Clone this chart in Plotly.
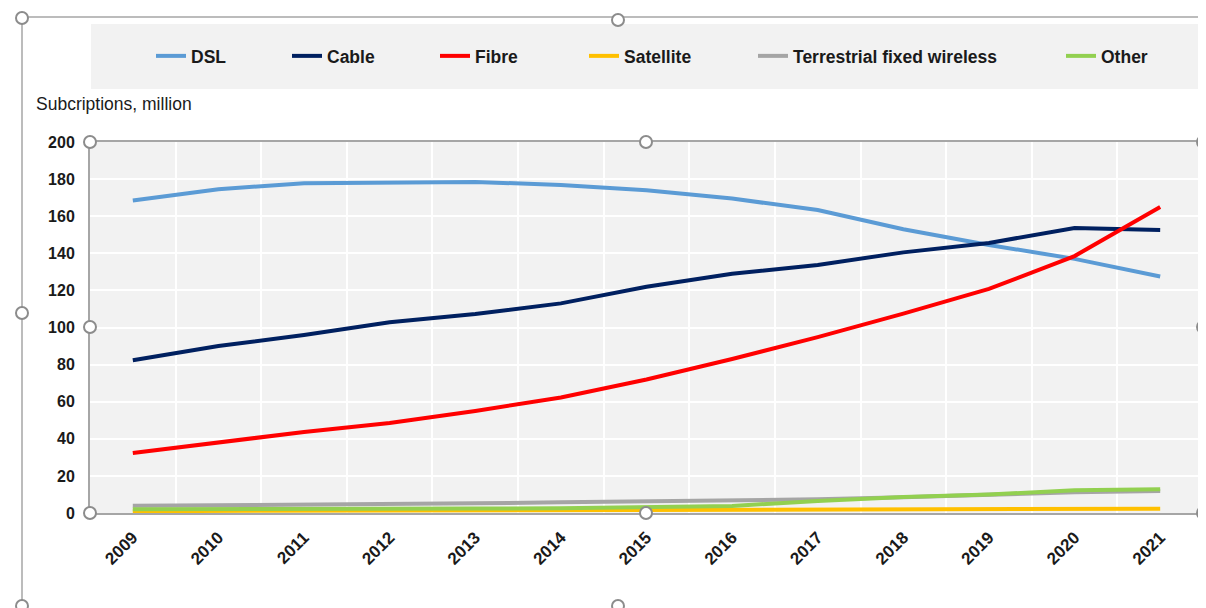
import plotly.graph_objects as go

# subscriptions by technology, million
years = list(range(2009, 2022))
dsl = [168.5, 174.5, 177.8, 178.0, 178.5, 176.8, 174.0, 169.5, 163.3, 153.0, 144.5, 137.0, 127.5]
cable = [82.3, 90.0, 96.0, 102.8, 107.3, 113.0, 122.0, 129.0, 133.7, 140.5, 145.6, 153.6, 152.6]
fibre = [32.3, 38.0, 43.7, 48.5, 55.0, 62.3, 72.0, 83.0, 94.8, 107.5, 120.8, 138.5, 165.0]
satellite = [1.0, 1.1, 1.2, 1.3, 1.4, 1.5, 1.6, 1.8, 2.0, 2.1, 2.2, 2.3, 2.3]
wireless = [3.9, 4.1, 4.4, 4.8, 5.2, 5.8, 6.3, 6.6, 7.4, 8.5, 9.7, 11.2, 11.8]
other = [2.0, 2.0, 2.1, 2.2, 2.4, 2.6, 3.0, 3.8, 6.5, 8.6, 10.0, 12.2, 12.8]

series = [
    ("DSL", dsl, "#5B9BD5"),
    ("Cable", cable, "#002060"),
    ("Fibre", fibre, "#FF0000"),
    ("Satellite", satellite, "#FFC000"),
    ("Terrestrial fixed wireless", wireless, "#A5A5A5"),
    ("Other", other, "#92D050"),
]

# figure size; the page body adds an 8px offset, margins compensate for it
W, H = 1206, 608
OFF = 8
L, R, T, B = 90 - OFF, 11, 142 - OFF, 103

# page pixel -> paper coords
def px_x(p):
    return (p - OFF - L) / (W - L - R)

def px_y(p):
    return (H - B - (p - OFF)) / (H - T - B)

FONT = "Liberation Sans, Arial, sans-serif"
legend_left = [149, 285, 433, 582, 751, 1059]

fig = go.Figure()
for i, (name, vals, col) in enumerate(series):
    fig.add_trace(go.Scatter(x=years, y=vals, mode="lines", name=name,
                             line=dict(color=col, width=4),
                             legend="legend" if i == 0 else "legend%d" % (i + 1)))

for i, x0 in enumerate(legend_left):
    key = "legend" if i == 0 else "legend%d" % (i + 1)
    fig.update_layout({key: dict(xref="container", yref="container",
                                 x=(x0 + 2 - OFF) / W, y=1 - (56 - OFF) / H,
                                 xanchor="left", yanchor="middle",
                                 orientation="h", bgcolor="rgba(0,0,0,0)",
                                 font=dict(family=FONT, size=17.5, color="#1a1a1a", weight="bold"))})

shapes = []
# legend background
shapes.append(dict(type="rect", xref="paper", yref="paper", x0=px_x(91), x1=px_x(1200),
                   y0=px_y(89), y1=px_y(24), fillcolor="#F2F2F2", line=dict(width=0), layer="below"))
# chart area border
shapes.append(dict(type="line", xref="paper", yref="paper", x0=px_x(22), x1=px_x(1214),
                   y0=px_y(17), y1=px_y(17), line=dict(color="#A6A6A6", width=1.5)))
shapes.append(dict(type="line", xref="paper", yref="paper", x0=px_x(22), x1=px_x(22),
                   y0=px_y(17), y1=px_y(616), line=dict(color="#A6A6A6", width=1.5)))
# selection handles
handles = [(90, 142), (646, 142), (1203, 142), (90, 327), (1203, 327), (90, 513), (646, 513),
           (1203, 513), (22, 18), (618, 20), (22, 313), (22, 606), (618, 606)]
for cx, cy in handles:
    shapes.append(dict(type="circle", xref="paper", yref="paper", x0=px_x(cx - 6), x1=px_x(cx + 6),
                       y0=px_y(cy + 6), y1=px_y(cy - 6), fillcolor="white",
                       line=dict(color="#8C8C8C", width=2), layer="above"))

fig.update_layout(
    width=W, height=H,
    margin=dict(l=L, r=R, t=T, b=B, autoexpand=False),
    showlegend=True,
    plot_bgcolor="#F2F2F2", paper_bgcolor="white",
    font=dict(family=FONT, color="#1a1a1a"),
    shapes=shapes,
    annotations=[dict(text="Subcriptions, million", xref="paper", yref="paper", x=px_x(34), y=px_y(104),
                      xanchor="left", yanchor="middle", showarrow=False,
                      font=dict(family=FONT, size=17.5, color="#1a1a1a"))],
)
fig.update_xaxes(range=[2008.5, 2021.5], tickmode="array", tickvals=years, tickangle=-45,
                 tickfont=dict(size=17, weight="bold"), showgrid=False, automargin=False,
                 minor=dict(tick0=2008.5, dtick=1, showgrid=True, gridcolor="white", gridwidth=1.5),
                 showline=True, linecolor="#A6A6A6", linewidth=2, mirror=True, zeroline=False,
                 ticks="", ticklabelstandoff=6)
fig.update_yaxes(range=[0, 200], dtick=20, tickfont=dict(size=16, weight="bold"), automargin=False,
                 gridcolor="white", gridwidth=1.5, showline=True, linecolor="#A6A6A6", linewidth=2,
                 mirror=True, zeroline=False, ticks="", ticklabelstandoff=10)

fig.write_html("out.html")
